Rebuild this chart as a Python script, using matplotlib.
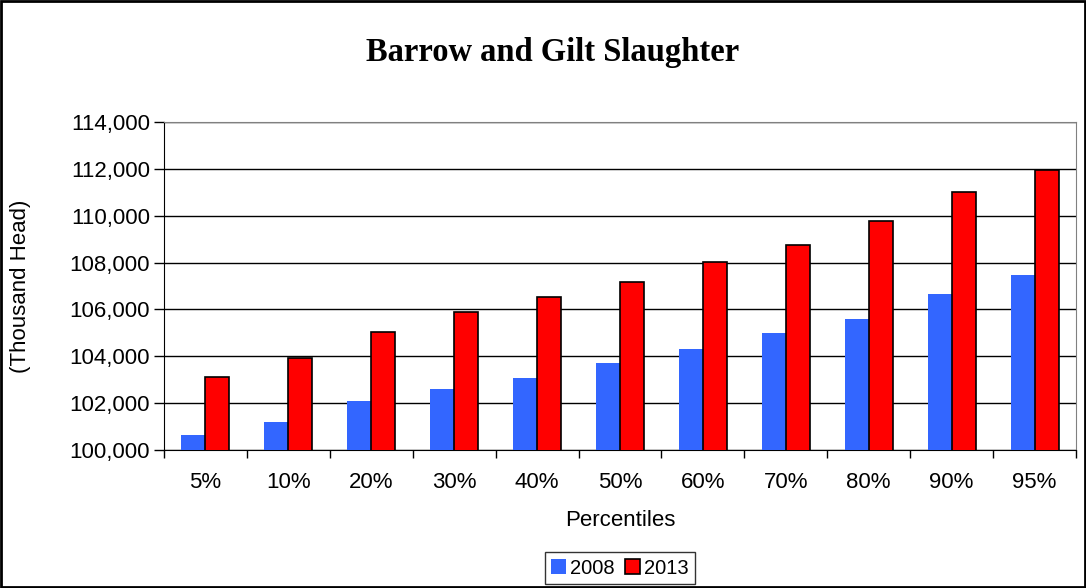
import numpy as np
import matplotlib.pyplot as plt
from matplotlib.ticker import FuncFormatter, FixedLocator
from matplotlib.patches import Rectangle

# data
percentiles = ["5%", "10%", "20%", "30%", "40%", "50%", "60%", "70%", "80%", "90%", "95%"]
head2008 = [100640, 101200, 102090, 102620, 103090, 103700, 104300, 104990, 105600, 106640, 107480]
head2013 = [103100, 103940, 105050, 105870, 106530, 107180, 108040, 108760, 109790, 111030, 111960]
yticks = [100000, 102000, 104000, 106000, 108000, 110000, 112000, 114000]

plt.rcParams['font.family'] = ['Liberation Sans', 'DejaVu Sans']

fig = plt.figure(figsize=(10.86, 5.88), dpi=100)
ax = fig.add_axes([0.151, 0.2347, 0.8398, 0.5578])

x = np.arange(len(percentiles))
w = 0.29
ax.bar(x - w / 2, head2008, w, color='#3366ff', label='2008', zorder=3)
ax.bar(x + w / 2, head2013, w, color='#ff0000', edgecolor='black', linewidth=1.2,
       label='2013', zorder=3)

ax.set_ylim(100000, 114000)
ax.set_xlim(-0.5, len(percentiles) - 0.5)
ax.set_yticks(yticks)
ax.yaxis.set_major_formatter(FuncFormatter(lambda v, p: f"{int(v):,}"))
ax.yaxis.grid(True, color='black', linewidth=1, zorder=0)

# category labels in the middle, tick marks between categories
ax.xaxis.set_major_locator(FixedLocator(np.arange(-0.5, len(percentiles), 1.0)))
ax.xaxis.set_major_formatter(FuncFormatter(lambda v, p: ""))
ax.xaxis.set_minor_locator(FixedLocator(x))
ax.set_xticklabels(percentiles, minor=True)
ax.tick_params(axis='x', which='minor', length=0, labelsize=16, pad=16)
ax.tick_params(axis='x', which='major', length=6, width=1, direction='out')
ax.tick_params(axis='y', length=7, width=1, labelsize=16, pad=3)

for s in ['top', 'right']:
    ax.spines[s].set_color('#808080')
ax.spines['left'].set_color('black')
ax.spines['bottom'].set_color('black')

ax.set_xlabel("Percentiles", fontsize=16, labelpad=12)
ax.set_ylabel("(Thousand Head)", fontsize=16, labelpad=28)

fig.text(0.509, 0.91, "Barrow and Gilt Slaughter", ha='center', va='center',
         fontsize=23.5, fontweight='bold', family='Liberation Serif')

leg = ax.legend(loc='center', bbox_to_anchor=(0.571, 0.034), bbox_transform=fig.transFigure,
                ncol=2, frameon=True, fancybox=False, edgecolor='black', fontsize=14.5,
                handlelength=0.75, handleheight=0.75, handletextpad=0.2, columnspacing=0.5,
                borderpad=0.3, borderaxespad=0)
leg.get_frame().set_linewidth(1)

fig.patches.append(Rectangle((0.001, 0.001), 0.998, 0.997, transform=fig.transFigure,
                             fill=False, edgecolor='black', linewidth=2))

plt.savefig("out.png", dpi=100)
